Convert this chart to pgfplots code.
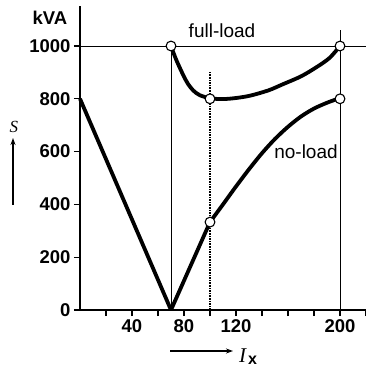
\documentclass[border=0pt]{standalone}
\usepackage{pgfplots}
\pgfplotsset{compat=1.18}
\usetikzlibrary{arrows.meta}
\usepackage{fontspec}
\setmainfont{Liberation Sans}
\newfontfamily\serifit{Liberation Serif}
\begin{document}
\begin{tikzpicture}
\begin{axis}[
 scale only axis, width=286pt, height=303.6pt,
 xmin=0, xmax=220, ymin=0, ymax=1150,
 axis x line=bottom, axis y line=left,
 axis line style={-, line width=2.6pt},
 xtick={20,40,...,220}, xticklabels={,40,,80,,120,,,,200,},
 ytick={0,200,...,1000},
 tick style={line width=1.3pt, black},
 tick align=outside, major tick length=6pt,
 ticklabel style={font=\bfseries\fontsize{18.5}{20}\selectfont},
 /pgf/number format/assume math mode=true,
 /pgf/number format/1000 sep={},
 clip=false,
]
% thin guide lines
\addplot[black, line width=0.9pt] coordinates {(0,1000) (220,1000)};
\addplot[black, line width=0.9pt] coordinates {(70,0) (70,1000)};
\addplot[black, line width=0.9pt] coordinates {(200,0) (200,1060)};
\addplot[black, line width=1.6pt, densely dotted] coordinates {(100,0) (100,900)};
% left line
\addplot[black, line width=3.8pt] coordinates {(0,800) (70,0)};
% no-load
\addplot[black, line width=3.8pt] coordinates {(70,0) (100,333)};
\addplot[black, line width=3.8pt, smooth] coordinates {(100,333) (110,400) (120,468) (130,533) (140,594) (150,648) (160,694) (170,733) (180,763) (190,785) (200,803)};
% full-load
\addplot[black, line width=3.8pt, smooth] coordinates {(70,1000) (72,973) (74,948) (77,915) (80,884) (83,857) (87,832) (92,814) (100,802) (110,799) (120,803) (131,812) (145,832) (156,855) (170,885) (182,920) (192,955) (200,1000)};
% markers
\addplot[only marks, mark=*, mark size=4.9pt, mark options={fill=white, draw=black, line width=1.1pt}] coordinates {(70,1000) (100,800) (200,1000) (200,800) (100,333)};
\end{axis}
% annotations (origin of axis = (0,0))
\node[font=\bfseries\fontsize{18.5}{20}\selectfont] at (-30pt,292pt) {kVA};
\node[font=\fontsize{19}{20}\selectfont] at (142pt,279pt) {full-load};
\node[font=\fontsize{19}{20}\selectfont] at (226pt,158pt) {no-load};
\node[font=\serifit\itshape\fontsize{17}{20}\selectfont] at (-66pt,183pt) {S};
\draw[line width=1.2pt, -{Stealth[length=7pt,width=5pt]}] (-67pt,105pt) -- (-67pt,172pt);
\draw[line width=1.2pt, -{Stealth[length=7pt,width=5pt]}] (90pt,-41pt) -- (153pt,-41pt);
\node[anchor=base west, inner sep=0pt, font=\serifit\itshape\fontsize{21}{22}\selectfont] at (159pt,-52pt) {I};
\node[anchor=base west, inner sep=0pt, font=\bfseries\fontsize{16}{18}\selectfont] at (168pt,-54pt) {x};
\pgfresetboundingbox
\useasboundingbox (-80pt,-57pt) rectangle (285pt,310pt);
\end{tikzpicture}
\end{document}
